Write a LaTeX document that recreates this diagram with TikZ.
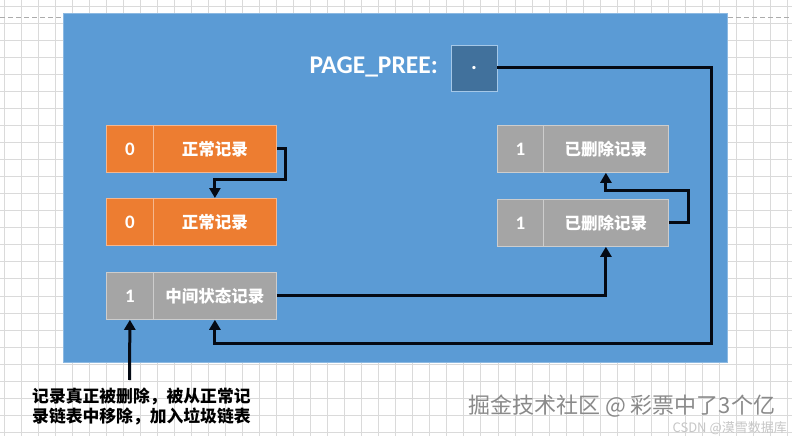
\documentclass[tikz,border=0pt]{standalone}
\usepackage{fontspec}
\setmainfont{Carlito}
\newfontfamily\cjk{Noto Sans CJK SC}
\usetikzlibrary{arrows.meta}
\definecolor{bgblue}{HTML}{5B9BD5}
\definecolor{recorange}{HTML}{ED7D31}
\definecolor{recgray}{HTML}{A5A5A5}
\definecolor{ppblue}{HTML}{41719C}
\definecolor{gridc}{HTML}{DADADA}
\definecolor{wmc}{HTML}{8A8A8A}
\definecolor{linkc}{HTML}{050A14}
\begin{document}
\begin{tikzpicture}[x=1pt,y=-1pt,
  cell/.style={anchor=north west, minimum height=47pt, inner sep=0pt, text=white, line width=0.8pt},
  org/.style={cell, fill=recorange, draw=recorange!55!white},
  gry/.style={cell, fill=recgray, draw=recgray!55!white},
  numc/.style={minimum width=47pt, font=\bfseries\fontsize{19}{20}\selectfont},
  txtc/.style={minimum width=123pt, font=\cjk\bfseries\fontsize{16.5}{18}\selectfont},
  link/.style={line width=3pt, draw=linkc, -{Triangle[length=10pt,width=11pt]}},
  gridline/.style={draw=gridc, line width=0.7pt},
]
\useasboundingbox (0,0) rectangle (792,436);
\fill[white] (0,0) rectangle (792,436);
% grid
\foreach \i in {0,...,46} \draw[gridline] ({4+17.03*\i},0) -- ({4+17.03*\i},436);
\foreach \j in {0,...,25} \draw[gridline] (0,{6+17.05*\j}) -- (792,{6+17.05*\j});
\draw[draw=gray!65, line width=0.8pt, dash pattern=on 5pt off 3pt] (0,17) -- (792,17);
% page
\path[fill=bgblue, draw=bgblue!70!white, line width=0.8pt] (63,13) rectangle (727,362);
% PAGE_PREE
\node[anchor=base east, inner sep=0pt, text=white, font=\bfseries\fontsize{25.5}{28}\selectfont] (pplabel) at (438,74) {PAGE\_PREE:};
\node[minimum size=46pt, inner sep=0pt, fill=ppblue, draw=bgblue!55!white, line width=0.8pt, text=white, font=\bfseries\fontsize{22}{24}\selectfont] (pp) at (474,68) {.};
% left records
\node[org,numc] (r1a) at (106,125) {0};
\node[org,txtc] (r1b) at (153,125) {正常记录};
\node[org,numc] (r2a) at (106,198) {0};
\node[org,txtc] (r2b) at (153,198) {正常记录};
\node[gry,numc] (r3a) at (106,272) {1};
\node[gry,txtc] (r3b) at (153,272) {中间状态记录};
% right records
\node[gry,numc,minimum width=46pt] (s1a) at (497,125) {1};
\node[gry,txtc,minimum width=125pt] (s1b) at (543,125) {已删除记录};
\node[gry,numc,minimum width=46pt] (s2a) at (497,199) {1};
\node[gry,txtc,minimum width=125pt] (s2b) at (543,199) {已删除记录};
% annotation
\node[anchor=north west, align=left, inner sep=0pt, font=\cjk\bfseries\fontsize{16.8}{20}\selectfont] (note) at (32,388) {记录真正被删除，被从正常记\\录链表中移除，加入垃圾链表};
% watermarks
\node[anchor=west, inner sep=0pt, text=wmc, font=\cjk\fontsize{22}{24}\selectfont] (wm1) at (468,406) {掘金技术社区 @ 彩票中了3个亿};
\node[anchor=east, inner sep=0pt, text=gray!45, font=\cjk\fontsize{13}{15}\selectfont] (wm2) at (787,428) {CSDN @漠雪数据库};
% connectors
\coordinate (c1) at (711,343);
\coordinate (c2) at (129.5,380);
\draw[link] (r1b.east) -- ++(9,0) -- ++(0,30.5) -| (r2b.north);
\draw[link] (s2b.east) -- ++(20,0) -- ++(0,-32) -| (s1b.south);
\draw[link] (r3b.east) -| (s2b.south);
\draw[link] (pp.east) -| (c1) -| (r3b.south);
\draw[link] (c2) -- (r3a.south);
\end{tikzpicture}
\end{document}
